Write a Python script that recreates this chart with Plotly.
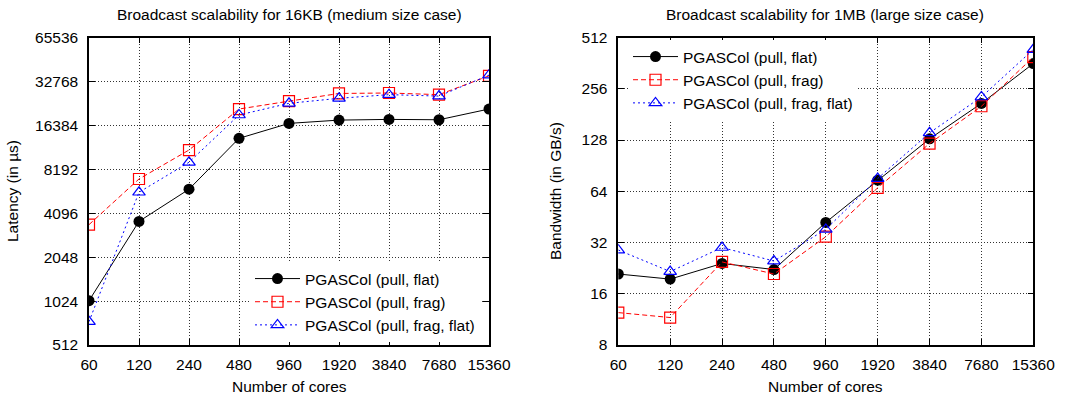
import math
import plotly.graph_objects as go

cores = [60, 120, 240, 480, 960, 1920, 3840, 7680, 15360]
core_labels = [str(c) for c in cores]

# Left: latency (us) for 16KB
lat_flat = [1030, 3600, 5980, 13350, 16900, 17800, 18000, 17900, 21200]
lat_frag = [3420, 7030, 11100, 21200, 24000, 27100, 27300, 26600, 35800]
lat_frag_flat = [740, 5700, 9150, 19300, 23200, 25100, 26600, 26000, 36200]

# Right: bandwidth (GB/s) for 1MB
bw_flat = [20.9, 19.5, 24.1, 22.2, 42.0, 74.3, 130, 210, 360]
bw_frag = [12.4, 11.6, 24.6, 20.9, 34.6, 67, 122, 202, 393]
bw_frag_flat = [28.9, 21.6, 29.9, 24.9, 38.2, 76, 141, 229, 435]

lat_ticks = [512, 1024, 2048, 4096, 8192, 16384, 32768, 65536]
bw_ticks = [8, 16, 32, 64, 128, 256, 512]

names = ["PGASCol (pull, flat)", "PGASCol (pull, frag)", "PGASCol (pull, frag, flat)"]
styles = [
    dict(line=dict(color="black", width=1, dash="solid"),
         marker=dict(symbol="circle", size=11, color="black")),
    dict(line=dict(color="#ff0000", width=1, dash="5px,3px"),
         marker=dict(symbol="square-open", size=11, color="#ff0000", line=dict(width=1.2))),
    dict(line=dict(color="#0000ff", width=1, dash="2px,3px"),
         marker=dict(symbol="triangle-up-open", size=11, color="#0000ff", line=dict(width=1.2))),
]

FONT = "Liberation Sans, Arial, Helvetica, sans-serif"
FS = 15.5

fig = go.Figure()
for name, ys, st in zip(names, [lat_flat, lat_frag, lat_frag_flat], styles):
    fig.add_trace(go.Scatter(x=cores, y=ys, name=name, mode="lines+markers",
                             xaxis="x", yaxis="y", legend="legend", **st))
for name, ys, st in zip(names, [bw_flat, bw_frag, bw_frag_flat], styles):
    fig.add_trace(go.Scatter(x=cores, y=ys, name=name, mode="lines+markers",
                             xaxis="x2", yaxis="y2", legend="legend2", **st))

W, H = 1069, 398
GRID = dict(showgrid=True, gridcolor="#333", griddash="1px,2px", gridwidth=1)
common_x = dict(type="log", tickvals=cores, ticktext=core_labels,
                range=[math.log10(60), math.log10(15360)],
                showline=True, linecolor="black", linewidth=1.5, mirror="ticks",
                ticks="inside", ticklen=6, tickcolor="black",
                tickfont=dict(size=FS, color="black", family=FONT),
                zeroline=False, ticklabelstandoff=5, automargin=False, **GRID)
common_y = dict(type="log",
                showline=True, linecolor="black", linewidth=1.5, mirror="ticks",
                ticks="inside", ticklen=6, tickcolor="black",
                tickfont=dict(size=FS, color="black", family=FONT),
                zeroline=False, ticklabelstandoff=6, automargin=False, **GRID)

ybot = (H - 345) / H
ytop = (H - 37.5) / H

def ann(text, x, y, angle=0):
    return dict(text=text, x=x / W, y=(H - y) / H, xref="paper", yref="paper",
                xanchor="center", yanchor="middle", textangle=angle,
                showarrow=False, font=dict(size=FS, family=FONT, color="black"))

fig.update_layout(
    width=W, height=H, margin=dict(l=0, r=0, t=0, b=0, autoexpand=False),
    paper_bgcolor="white", plot_bgcolor="white",
    font=dict(family=FONT, color="black", size=FS),
    xaxis=dict(common_x, domain=[89 / W, 489 / W], anchor="y"),
    yaxis=dict(common_y, domain=[ybot, ytop], anchor="x",
               tickvals=lat_ticks, ticktext=[str(t) for t in lat_ticks],
               range=[math.log10(512), math.log10(65536)]),
    xaxis2=dict(common_x, domain=[618.3 / W, 1033.3 / W], anchor="y2"),
    yaxis2=dict(common_y, domain=[ybot, ytop], anchor="x2",
                tickvals=bw_ticks, ticktext=[str(t) for t in bw_ticks],
                range=[math.log10(8), math.log10(512)]),
    legend=dict(x=480 / W, y=(H - 342) / H, xanchor="right", yanchor="bottom",
                bgcolor="white", font=dict(size=FS, family=FONT),
                itemwidth=45, tracegroupgap=0),
    legend2=dict(x=628 / W, y=(H - 40) / H, xanchor="left", yanchor="top",
                 bgcolor="white", font=dict(size=FS, family=FONT),
                 itemwidth=45, tracegroupgap=0),
    annotations=[
        ann("Broadcast scalability for 16KB (medium size case)", 289, 14),
        ann("Broadcast scalability for 1MB (large size case)", 825, 14),
        ann("Number of cores", 289, 386),
        ann("Number of cores", 825, 386),
        ann("Latency (in µs)", 12, 191, -90),
        ann("Bandwidth (in GB/s)", 555, 191, -90),
    ],
)

fig.write_html("out.html")
